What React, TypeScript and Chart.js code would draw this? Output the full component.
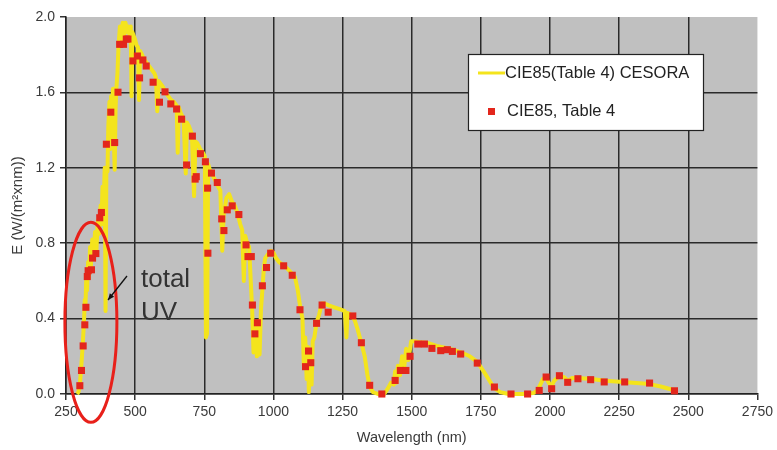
import React, { useEffect, useRef } from "react";
import { Chart, registerables } from "chart.js";

Chart.register(...registerables);

const lineLabel = "CIE85(Table 4) CESORA";
const pointLabel = "CIE85, Table 4";
const xTitle = "Wavelength (nm)";
const yTitle = "E (W/(m²xnm))";
const noteLines = ["total", "UV"];

const xTickValues = [250, 500, 750, 1000, 1250, 1500, 1750, 2000, 2250, 2500, 2750];
const yTickValues = [0, 0.4, 0.8, 1.2, 1.6, 2.0];

// Yellow spectral curve (nm)
const cesoraWavelength = [
  290, 295, 300, 305, 310, 315, 318, 320, 323, 326, 330, 333, 337, 340, 345, 350, 355, 360, 365, 370,
  375, 378, 382, 386, 390, 393, 396, 400, 403, 407, 410, 413, 417, 420, 423, 426, 429, 432, 436, 440,
  445, 450, 455, 460, 465, 470, 475, 480, 484, 487, 490, 495, 500, 505, 510, 514, 518, 525, 530, 540,
  550, 560, 570, 575, 580, 585, 590, 600, 610, 620, 630, 640, 650, 654, 658, 665, 675, 683, 687, 695,
  705, 713, 718, 725, 735, 745, 752, 756, 760, 764, 770, 780, 791, 800, 808, 815, 820, 830, 840, 850,
  860, 870, 880, 887, 893, 898, 905, 912, 918, 923, 928, 935, 940, 945, 950, 955, 960, 965, 970, 980,
  990, 1000, 1010, 1020, 1040, 1060, 1078, 1088, 1097, 1105, 1110, 1115, 1120, 1125, 1128, 1133, 1138, 1142, 1148, 1156,
  1165, 1175, 1185, 1200, 1220, 1240, 1258, 1264, 1268, 1280, 1294, 1305, 1318, 1330, 1340, 1348, 1360, 1378, 1400, 1414,
  1425, 1435, 1440, 1445, 1450, 1458, 1465, 1472, 1480, 1488, 1498, 1510, 1530, 1560, 1590, 1620, 1650, 1680, 1710, 1737,
  1760, 1773, 1790, 1800, 1820, 1850, 1900, 1940, 1955, 1965, 1975, 1985, 1995, 2005, 2015, 2030, 2050, 2065, 2080, 2100,
  2150, 2200, 2250, 2300, 2350, 2400, 2450,
];
// Yellow spectral curve (W/(m²·nm))
const cesoraIrradiance = [
  0, 0.01, 0.05, 0.14, 0.25, 0.38, 0.5, 0.45, 0.6, 0.55, 0.7, 0.62, 0.78, 0.68, 0.82, 0.72, 0.86, 0.76, 0.92, 0.85,
  1.0, 0.9, 1.1, 1.0, 1.2, 0.44, 1.2, 1.18, 1.42, 1.55, 1.3, 1.58, 1.52, 1.62, 1.35, 1.19, 1.5, 1.62, 1.7, 1.85,
  1.95, 1.88, 1.97, 1.9, 1.97, 1.92, 1.95, 1.9, 1.95, 1.58, 1.92, 1.9, 1.88, 1.85, 1.84, 1.56, 1.82, 1.8, 1.78, 1.76,
  1.74, 1.72, 1.7, 1.68, 1.5, 1.66, 1.65, 1.63, 1.6, 1.58, 1.56, 1.55, 1.53, 1.28, 1.52, 1.49, 1.46, 1.17, 1.44, 1.42,
  1.38, 1.05, 1.34, 1.33, 1.3, 1.28, 1.26, 0.3, 0.32, 1.22, 1.19, 1.16, 1.13, 1.1, 1.08, 0.76, 0.95, 1.04, 1.06, 1.02,
  1.0, 0.96, 0.9, 0.87, 0.6, 0.84, 0.8, 0.78, 0.6, 0.45, 0.22, 0.38, 0.2, 0.35, 0.21, 0.45, 0.55, 0.66, 0.72, 0.74,
  0.76, 0.75, 0.72, 0.7, 0.68, 0.65, 0.62, 0.55, 0.46, 0.4, 0.15, 0.3, 0.08, 0.25, 0.01, 0.2, 0.05, 0.28, 0.3, 0.38,
  0.42, 0.48, 0.48, 0.47, 0.46, 0.45, 0.44, 0.3, 0.43, 0.42, 0.39, 0.34, 0.27, 0.2, 0.1, 0.04, 0.01, 0, 0, 0.03,
  0.06, 0.05, 0.12, 0.06, 0.15, 0.1, 0.2, 0.13, 0.24, 0.18, 0.28, 0.28, 0.275, 0.27, 0.255, 0.245, 0.235, 0.22, 0.2, 0.17,
  0.12, 0.09, 0.05, 0.03, 0.01, 0, 0, 0.005, 0.02, 0.05, 0.08, 0.09, 0.06, 0.04, 0.07, 0.09, 0.09, 0.07, 0.085, 0.085,
  0.08, 0.07, 0.065, 0.06, 0.055, 0.04, 0.02,
];

// Red table points (nm)
const tableWavelength = [
  300, 306, 312, 318, 322, 327, 330, 342, 346, 358, 372, 378, 396, 412, 426, 438, 444, 458, 468, 474,
  492, 508, 516, 528, 540, 565, 588, 608, 629, 650, 668, 686, 707, 717, 721, 736, 754, 762, 763, 776,
  797, 813, 821, 833, 851, 875, 901, 908, 920, 924, 933, 942, 960, 975, 990, 1037, 1068, 1096, 1116, 1127,
  1135, 1156, 1176, 1198, 1287, 1318, 1348, 1392, 1440, 1459, 1479, 1494, 1522, 1546, 1573, 1605, 1629, 1647, 1677, 1737,
  1799, 1859, 1919, 1961, 1986, 2006, 2034, 2064, 2101, 2147, 2196, 2270, 2360, 2450,
];
// Red table points (W/(m²·nm))
const tableIrradiance = [
  0.044, 0.125, 0.255, 0.367, 0.46, 0.623, 0.654, 0.659, 0.721, 0.745, 0.935, 0.963, 1.325, 1.495, 1.334, 1.601, 1.855, 1.855, 1.883, 1.883,
  1.767, 1.793, 1.677, 1.772, 1.74, 1.654, 1.548, 1.603, 1.539, 1.512, 1.458, 1.215, 1.368, 1.14, 1.153, 1.275, 1.232, 1.092, 0.747, 1.172,
  1.122, 0.929, 0.867, 0.977, 0.998, 0.952, 0.791, 0.729, 0.729, 0.472, 0.319, 0.378, 0.574, 0.671, 0.747, 0.68, 0.63, 0.447, 0.145, 0.228,
  0.166, 0.375, 0.472, 0.434, 0.414, 0.272, 0.046, 0, 0.072, 0.125, 0.125, 0.2, 0.265, 0.265, 0.242, 0.23, 0.235, 0.226, 0.212, 0.164,
  0.037, 0, 0, 0.019, 0.09, 0.028, 0.097, 0.062, 0.081, 0.076, 0.064, 0.064, 0.058, 0.017,
];

const YELLOW = "#f4e41c";
const RED = "#e3261c";
const PLOT_BG = "#c0c0c0";
const FONT = "'Liberation Sans', Arial, sans-serif";

const overlayPlugin = {
  id: "overlay",
  beforeDraw(chart: any) {
    const { ctx, chartArea } = chart;
    ctx.save();
    ctx.fillStyle = PLOT_BG;
    ctx.fillRect(chartArea.left, chartArea.top, chartArea.right - chartArea.left, chartArea.bottom - chartArea.top);
    ctx.restore();
  },
  afterDraw(chart: any) {
    const { ctx } = chart;
    const xs = chart.scales.x;
    const ys = chart.scales.y;
    ctx.save();

    // Legend box
    const bx = 468, by = 54, bw = 235, bh = 76;
    ctx.fillStyle = "#ffffff";
    ctx.fillRect(bx, by, bw, bh);
    ctx.strokeStyle = "#222";
    ctx.lineWidth = 1.2;
    ctx.strokeRect(bx + 0.5, by + 0.5, bw, bh);
    ctx.strokeStyle = YELLOW;
    ctx.lineWidth = 3;
    ctx.beginPath();
    ctx.moveTo(478, 73);
    ctx.lineTo(505, 73);
    ctx.stroke();
    ctx.fillStyle = RED;
    ctx.fillRect(488, 108, 7, 7);
    ctx.fillStyle = "#222";
    ctx.font = `16.5px ${FONT}`;
    ctx.textBaseline = "middle";
    ctx.textAlign = "left";
    ctx.fillText(lineLabel, 505, 73);
    ctx.fillText(pointLabel, 507, 111);

    // Ellipse around UV
    const cx = xs.getPixelForValue(340);
    const cy = ys.getPixelForValue(0.38);
    ctx.strokeStyle = "#e8201a";
    ctx.lineWidth = 3;
    ctx.beginPath();
    ctx.ellipse(cx, cy, 26, 100, 0, 0, Math.PI * 2);
    ctx.stroke();

    // Arrow
    ctx.strokeStyle = "#111";
    ctx.fillStyle = "#111";
    ctx.lineWidth = 1.3;
    const x1 = 127, y1 = 276, x2 = 108, y2 = 300;
    ctx.beginPath();
    ctx.moveTo(x1, y1);
    ctx.lineTo(x2, y2);
    ctx.stroke();
    const ang = Math.atan2(y2 - y1, x2 - x1);
    const hl = 7;
    ctx.beginPath();
    ctx.moveTo(x2, y2);
    ctx.lineTo(x2 - hl * Math.cos(ang - 0.4), y2 - hl * Math.sin(ang - 0.4));
    ctx.lineTo(x2 - hl * Math.cos(ang + 0.4), y2 - hl * Math.sin(ang + 0.4));
    ctx.closePath();
    ctx.fill();

    // Note text
    ctx.fillStyle = "#333";
    ctx.font = `26px ${FONT}`;
    ctx.textBaseline = "alphabetic";
    ctx.fillText(noteLines[0], 141, 287);
    ctx.fillText(noteLines[1], 141, 320);

    ctx.restore();
  },
};

export default function App() {
  const canvasRef = useRef<HTMLCanvasElement | null>(null);

  useEffect(() => {
    document.body.style.margin = "0";
    const canvas = canvasRef.current;
    if (!canvas) return;

    const lineData = cesoraWavelength.map((x, i) => ({ x, y: cesoraIrradiance[i] }));
    const pointData = tableWavelength.map((x, i) => ({ x, y: tableIrradiance[i] }));
    const lastX = xTickValues[xTickValues.length - 1];
    const lastY = yTickValues[yTickValues.length - 1];

    const chart = new Chart(canvas, {
      type: "line",
      data: {
        datasets: [
          {
            type: "scatter",
            label: pointLabel,
            data: pointData,
            pointStyle: "rect",
            pointRadius: 5,
            pointBackgroundColor: RED,
            pointBorderWidth: 0,
            borderWidth: 0,
            showLine: false,
            clip: false,
            order: 0,
          } as any,
          {
            type: "line",
            label: lineLabel,
            data: lineData,
            borderColor: YELLOW,
            borderWidth: 4,
            pointRadius: 0,
            tension: 0,
            fill: false,
            clip: false,
            borderJoinStyle: "round",
            order: 1,
          } as any,
        ],
      },
      options: {
        responsive: false,
        animation: false,
        layout: { padding: { left: 0, right: 15, top: 17, bottom: 0 } },
        plugins: {
          legend: { display: false },
          tooltip: { enabled: false },
        },
        scales: {
          x: {
            type: "linear",
            min: 250,
            max: 2750,
            afterBuildTicks: (scale: any) => {
              scale.ticks = xTickValues.map((v) => ({ value: v }));
            },
            afterFit: (scale: any) => {
              scale.height = 56;
            },
            ticks: {
              callback: (v: any) => String(v),
              color: "#3a3a3a",
              font: { family: FONT, size: 14 },
              padding: 4,
              maxRotation: 0,
              autoSkip: false,
            },
            grid: {
              color: (c: any) => (c.tick && c.tick.value === lastX ? "rgba(0,0,0,0)" : "#2a2a2a"),
              lineWidth: 1.5,
              tickColor: "#333",
              tickLength: 6,
            },
            border: { display: true, color: "#222", width: 1.5 },
            title: {
              display: true,
              text: xTitle,
              color: "#3a3a3a",
              font: { family: FONT, size: 14.5 },
              padding: { top: 0, bottom: 3 },
            },
          },
          y: {
            type: "linear",
            min: 0,
            max: 2,
            afterBuildTicks: (scale: any) => {
              scale.ticks = yTickValues.map((v) => ({ value: v }));
            },
            afterFit: (scale: any) => {
              scale.width = 66;
            },
            ticks: {
              callback: (v: any) => Number(v).toFixed(1),
              color: "#3a3a3a",
              font: { family: FONT, size: 14 },
              padding: 5,
            },
            grid: {
              color: (c: any) => (c.tick && c.tick.value === lastY ? "rgba(0,0,0,0)" : "#2a2a2a"),
              lineWidth: 1.5,
              tickColor: "#333",
              tickLength: 6,
            },
            border: { display: true, color: "#222", width: 1.5 },
            title: {
              display: true,
              text: yTitle,
              color: "#3a3a3a",
              font: { family: FONT, size: 15 },
              padding: { top: 9, bottom: 0 },
            },
          },
        },
      },
      plugins: [overlayPlugin],
    });

    return () => {
      chart.destroy();
    };
  }, []);

  return (
    <div style={{ width: 777, height: 450, background: "#fff" }}>
      <canvas ref={canvasRef} width={777} height={450} style={{ display: "block" }} />
    </div>
  );
}
